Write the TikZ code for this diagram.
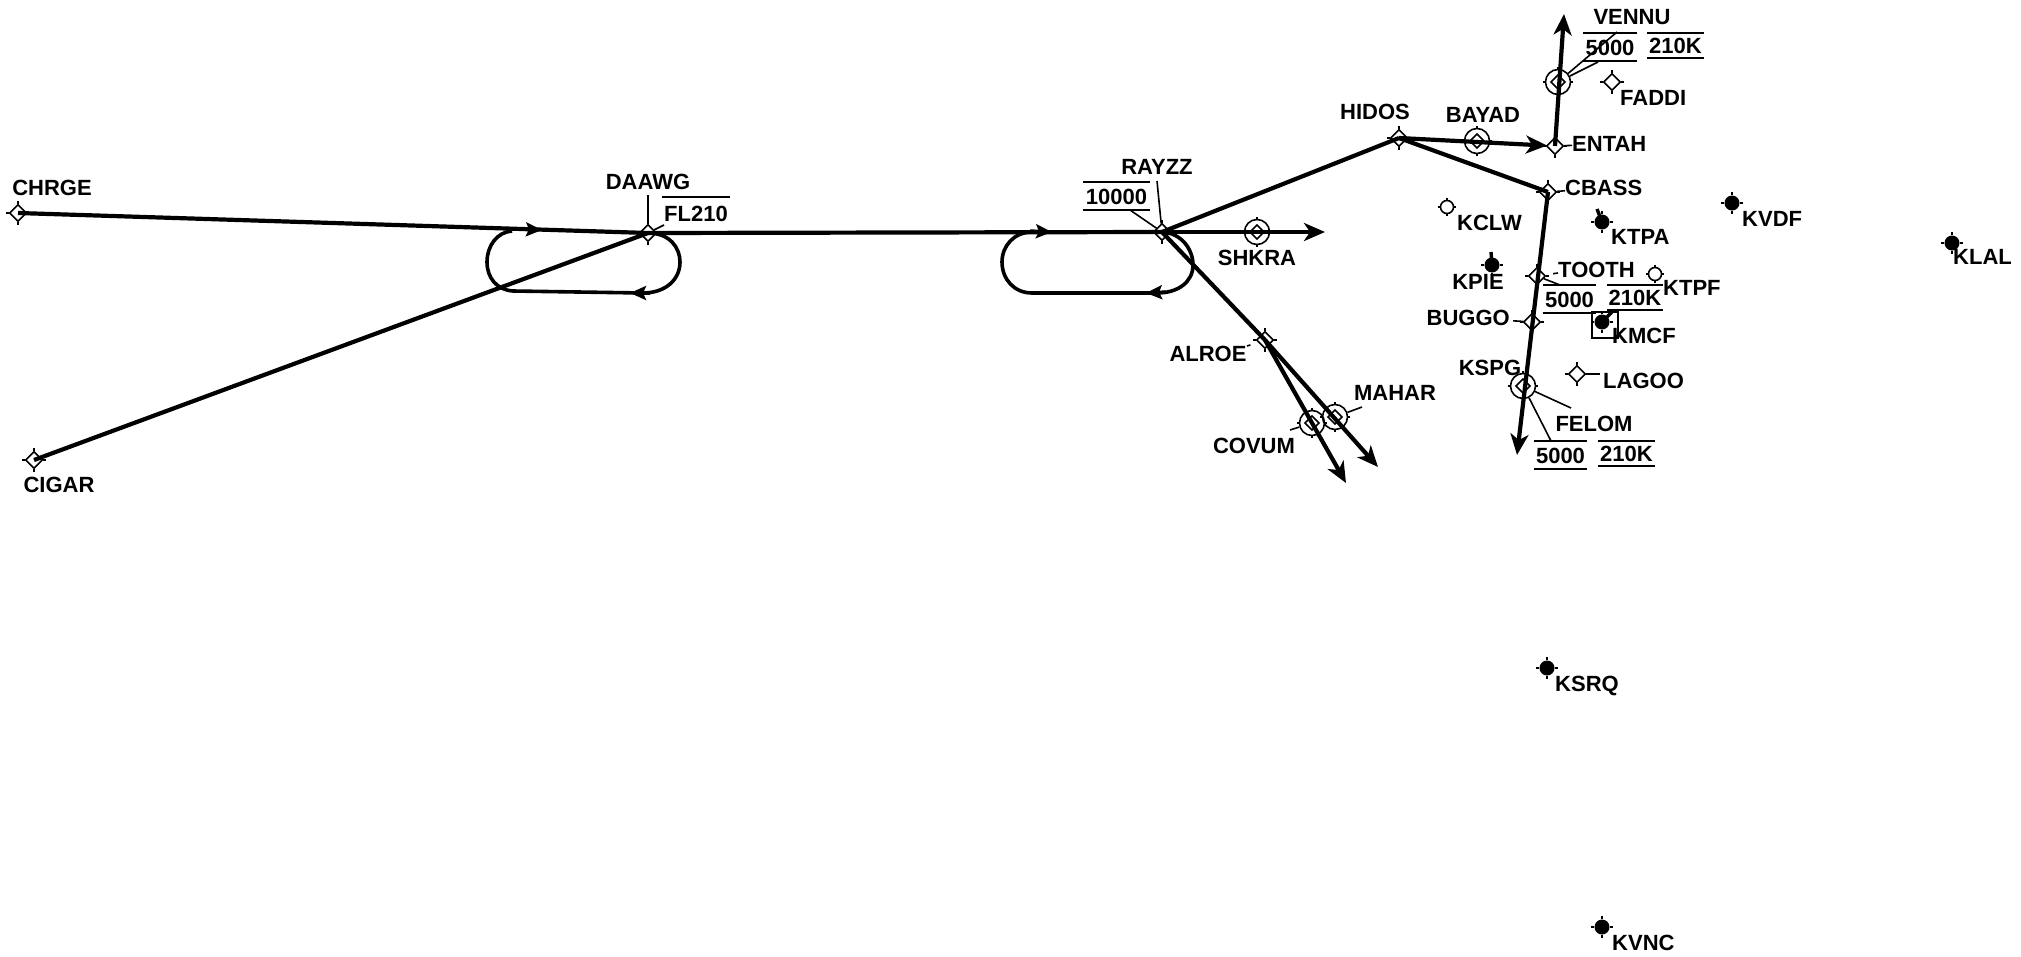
\documentclass[tikz,border=0pt]{standalone}
\usepackage{fontspec}
\usepackage{tikz}
\usetikzlibrary{arrows.meta,shapes.geometric}
\setmainfont{Liberation Sans}
\tikzset{
  route/.style={line width=4.2pt},
  routetip/.style={line width=4.2pt, -{Stealth[length=21pt,width=18pt,inset=6pt]}},
  midtip/.style={line width=3.4pt, -{Stealth[length=16pt,width=14pt,inset=3pt]}},
  leader/.style={line width=1.6pt},
  namelabel/.style={font=\bfseries\fontsize{22}{22}\selectfont, inner sep=0pt},
  ticked/.style={append after command={
      (\tikzlastnode.north) edge[leader] +(0,-#1)
      (\tikzlastnode.south) edge[leader] +(0,#1)
      (\tikzlastnode.west) edge[leader] +(-#1,0)
      (\tikzlastnode.east) edge[leader] +(#1,0)}},
  waypoint/.style={diamond, draw, line width=1.6pt, minimum size=17pt, inner sep=0pt, fill=white, ticked=3},
  fixpoint/.style={circle, draw, line width=1.6pt, minimum size=25pt, inner sep=0pt,
      path picture={\draw[line width=1.6pt] ([xshift=-7pt]path picture bounding box.center) -- ([yshift=-7pt]path picture bounding box.center) -- ([xshift=7pt]path picture bounding box.center) -- ([yshift=7pt]path picture bounding box.center) -- cycle;},
      ticked=2},
  smallfield/.style={circle, draw, line width=1.6pt, minimum size=13pt, inner sep=0pt, ticked=2},
  airport/.style={circle, fill=black, minimum size=15pt, inner sep=0pt, ticked=3},
  runway/.style={line width=3.4pt},
  datablock/.style={font=\bfseries\fontsize{22}{22}\selectfont, inner sep=0pt, minimum width=#1, text height=16pt, text depth=0pt, align=center},
  overunder/.style={append after command={
      (\tikzlastnode.north west) edge[leader] (\tikzlastnode.north east)
      (\tikzlastnode.south west) edge[leader] (\tikzlastnode.south east)}},
  overonly/.style={append after command={
      (\tikzlastnode.north west) edge[leader] (\tikzlastnode.north east)}},
}
\begin{document}
\begin{tikzpicture}[x=1pt,y=-1pt]
  \useasboundingbox (0,0) rectangle (2021,956);

  \coordinate (VENNUtip) at (1564,14);
  \coordinate (FELOMtip) at (1517,455);
  \coordinate (SHKRAtip) at (1325,232);
  \coordinate (MAHARtip) at (1378,467);
  \coordinate (COVUMtip) at (1346,483);

  \coordinate (VENNUend) at (1617,32);
  \coordinate (VENNUend2) at (1598,62);
  \coordinate (FELOMend) at (1571,408);
  \coordinate (FELOMend2) at (1551,441);
  \coordinate (TOOTHend) at (1560,285);
  \coordinate (TOOTHdash) at (1558,273);
  \coordinate (RAYZZend) at (1157,181);
  \coordinate (RAYZZend2) at (1130,210);
  \coordinate (DAAWGend) at (648,195);
  \coordinate (DAAWGend2) at (664,225);
  \coordinate (MAHARend) at (1362,407);
  \coordinate (COVUMend) at (1290,430);
  \coordinate (ALROEend) at (1247,346);
  \coordinate (LAGOOend) at (1600,374);

  \node[waypoint] (CHRGE) at (18,213) {};
  \node[waypoint] (CIGAR) at (34,460) {};
  \node[waypoint] (DAAWG) at (648,233) {};
  \node[waypoint] (RAYZZ) at (1162,232) {};
  \node[waypoint] (HIDOS) at (1399,138) {};
  \node[waypoint] (ENTAH) at (1555,146) {};
  \node[waypoint] (CBASS) at (1548,192) {};
  \node[waypoint] (FADDI) at (1612,82) {};
  \node[waypoint] (TOOTH) at (1537,276) {};
  \node[waypoint] (BUGGO) at (1532,322) {};
  \node[waypoint] (LAGOO) at (1577,374) {};
  \node[waypoint] (ALROE) at (1265,340) {};

  \node[fixpoint] (SHKRA) at (1257,232) {};
  \node[fixpoint] (BAYAD) at (1477,141) {};
  \node[fixpoint] (VENNU) at (1558,82) {};
  \node[fixpoint] (FELOM) at (1523,386) {};
  \node[fixpoint] (MAHAR) at (1335,417) {};
  \node[fixpoint] (COVUM) at (1312,423) {};

  \draw[route] (CHRGE.center) -- (DAAWG.center);
  \draw[route] (CIGAR.center) -- (DAAWG.center);
  \draw[route] (DAAWG.center) -- (RAYZZ.center);
  \draw[route] (RAYZZ.center) -- (HIDOS.center);
  \draw[routetip] (RAYZZ.center) -- (SHKRAtip);
  \draw[routetip, shorten >=8pt] (HIDOS.center) -- (ENTAH.center);
  \draw[route] (HIDOS.center) -- (CBASS.center);
  \draw[routetip] (ENTAH.center) -- (VENNUtip);
  \draw[routetip] (CBASS.center) -- (FELOMtip);
  \draw[route] (RAYZZ.center) -- (ALROE.center);
  \draw[routetip] (ALROE.center) -- (MAHARtip);
  \draw[routetip] (ALROE.center) -- (COVUMtip);

  \draw[line width=3.6pt] (DAAWG.center) .. controls (670,233) and (680,248) .. (680,262) .. controls (680,280) and (665,293) .. (643,293) -- (513,291) .. controls (497,290) and (487,278) .. (487,262) .. controls (487,246) and (497,232) .. (512,231);
  \draw[line width=3.6pt] (RAYZZ.center) .. controls (1182,233) and (1193,250) .. (1193,265) .. controls (1193,282) and (1178,293) .. (1157,293) -- (1032,293) .. controls (1014,293) and (1002,279) .. (1002,262) .. controls (1002,246) and (1014,232) .. (1032,232);

  \coordinate (holdAfrom) at (518,229);
  \coordinate (holdAto) at (542,230);
  \coordinate (holdBfrom) at (650,293);
  \coordinate (holdBto) at (630,293);
  \coordinate (holdCfrom) at (1030,231);
  \coordinate (holdCto) at (1052,232);
  \coordinate (holdDfrom) at (1166,292);
  \coordinate (holdDto) at (1146,293);
  \draw[midtip] (holdAfrom) -- (holdAto);
  \draw[midtip] (holdBfrom) -- (holdBto);
  \draw[midtip] (holdCfrom) -- (holdCto);
  \draw[midtip] (holdDfrom) -- (holdDto);

  \node[smallfield] (KCLW) at (1447,207) {};
  \node[smallfield] (KTPF) at (1655,274) {};
  \node[airport] (KTPA) at (1602,222) {};
  \node[airport] (KPIE) at (1492,265) {};
  \node[airport] (KMCF) at (1602,322) {};
  \node[airport] (KVDF) at (1732,203) {};
  \node[airport] (KLAL) at (1952,243) {};
  \node[airport] (KSRQ) at (1547,668) {};
  \node[airport] (KVNC) at (1602,927) {};
  \node[draw, line width=1.2pt, minimum size=26pt, inner sep=0pt] (KMCFbox) at (1605,325) {};
  \coordinate (KTPAend) at (1597,209);
  \coordinate (KPIEend) at (1491,252);
  \coordinate (KMCFend) at (1612,312);
  \draw[runway] (KTPA.center) -- (KTPAend);
  \draw[runway] (KPIE.center) -- (KPIEend);
  \draw[runway] (KMCF.center) -- (KMCFend);

  \node[namelabel] (CHRGElabel) at (52,188) {CHRGE};
  \node[namelabel] (CIGARlabel) at (59,485) {CIGAR};
  \node[namelabel] (DAAWGlabel) at (648,182) {DAAWG};
  \node[namelabel] (RAYZZlabel) at (1157,167) {RAYZZ};
  \node[namelabel] (SHKRAlabel) at (1257,258) {SHKRA};
  \node[namelabel] (HIDOSlabel) at (1375,112) {HIDOS};
  \node[namelabel] (BAYADlabel) at (1483,115) {BAYAD};
  \node[namelabel, anchor=west] (ENTAHlabel) at (1572,144) {ENTAH};
  \node[namelabel, anchor=west] (CBASSlabel) at (1565,188) {CBASS};
  \node[namelabel] (VENNUlabel) at (1632,17) {VENNU};
  \node[namelabel, anchor=west] (FADDIlabel) at (1620,98) {FADDI};
  \node[namelabel, anchor=west] (KCLWlabel) at (1457,223) {KCLW};
  \node[namelabel, anchor=west] (KTPAlabel) at (1611,237) {KTPA};
  \node[namelabel] (KPIElabel) at (1478,282) {KPIE};
  \node[namelabel, anchor=west] (TOOTHlabel) at (1558,270) {TOOTH};
  \node[namelabel, anchor=west] (KTPFlabel) at (1663,288) {KTPF};
  \node[namelabel, anchor=east] (BUGGOlabel) at (1510,318) {BUGGO};
  \node[namelabel, anchor=west] (KMCFlabel) at (1612,336) {KMCF};
  \node[namelabel] (KSPGlabel) at (1490,368) {KSPG};
  \node[namelabel, anchor=west] (LAGOOlabel) at (1603,381) {LAGOO};
  \node[namelabel] (FELOMlabel) at (1594,424) {FELOM};
  \node[namelabel] (ALROElabel) at (1208,354) {ALROE};
  \node[namelabel] (MAHARlabel) at (1395,393) {MAHAR};
  \node[namelabel] (COVUMlabel) at (1254,446) {COVUM};
  \node[namelabel, anchor=west] (KVDFlabel) at (1742,219) {KVDF};
  \node[namelabel, anchor=west] (KLALlabel) at (1953,257) {KLAL};
  \node[namelabel, anchor=west] (KSRQlabel) at (1555,686) {KSRQ};
  \node[namelabel, anchor=west] (KVNClabel) at (1612,943) {KVNC};

  \node[datablock=54pt, overunder, minimum height=28pt] (VENNUalt) at (1610,47) {5000};
  \node[datablock=57pt, overunder, minimum height=25pt] (VENNUspd) at (1675.5,45.5) {210K};
  \node[datablock=53pt, overunder, minimum height=28pt] (TOOTHalt) at (1569.5,299) {5000};
  \node[datablock=56pt, overunder, minimum height=25pt] (TOOTHspd) at (1635,297.5) {210K};
  \node[datablock=53pt, overunder, minimum height=28pt] (FELOMalt) at (1560.5,455) {5000};
  \node[datablock=57pt, overunder, minimum height=25pt] (FELOMspd) at (1626.5,453.5) {210K};
  \node[datablock=67pt, overunder, minimum height=28pt] (RAYZZalt) at (1116.5,196) {10000};
  \node[datablock=68pt, overonly, minimum height=32pt] (DAAWGalt) at (696,213) {FL210};

  \draw[leader] (VENNU) -- (VENNUend);
  \draw[leader] (VENNU) -- (VENNUend2);
  \draw[leader] (FELOM) -- (FELOMend);
  \draw[leader] (FELOM) -- (FELOMend2);
  \draw[leader] (TOOTH) -- (TOOTHend);
  \draw[leader, shorten <=8pt] (TOOTH) -- (TOOTHdash);
  \draw[leader] (RAYZZ) -- (RAYZZend);
  \draw[leader] (RAYZZ) -- (RAYZZend2);
  \draw[leader] (DAAWG) -- (DAAWGend);
  \draw[leader] (DAAWG) -- (DAAWGend2);
  \draw[leader] (MAHAR) -- (MAHARend);
  \draw[leader] (COVUM) -- (COVUMend);
  \draw[leader, shorten <=8pt] (ALROE) -- (ALROEend);
  \draw[leader] (ENTAH) -- (ENTAHlabel);
  \draw[leader] (CBASS) -- (CBASSlabel);
  \draw[leader, shorten >=3pt] (BUGGO) -- (BUGGOlabel);
  \draw[leader] (LAGOO) -- (LAGOOend);
\end{tikzpicture}
\end{document}
